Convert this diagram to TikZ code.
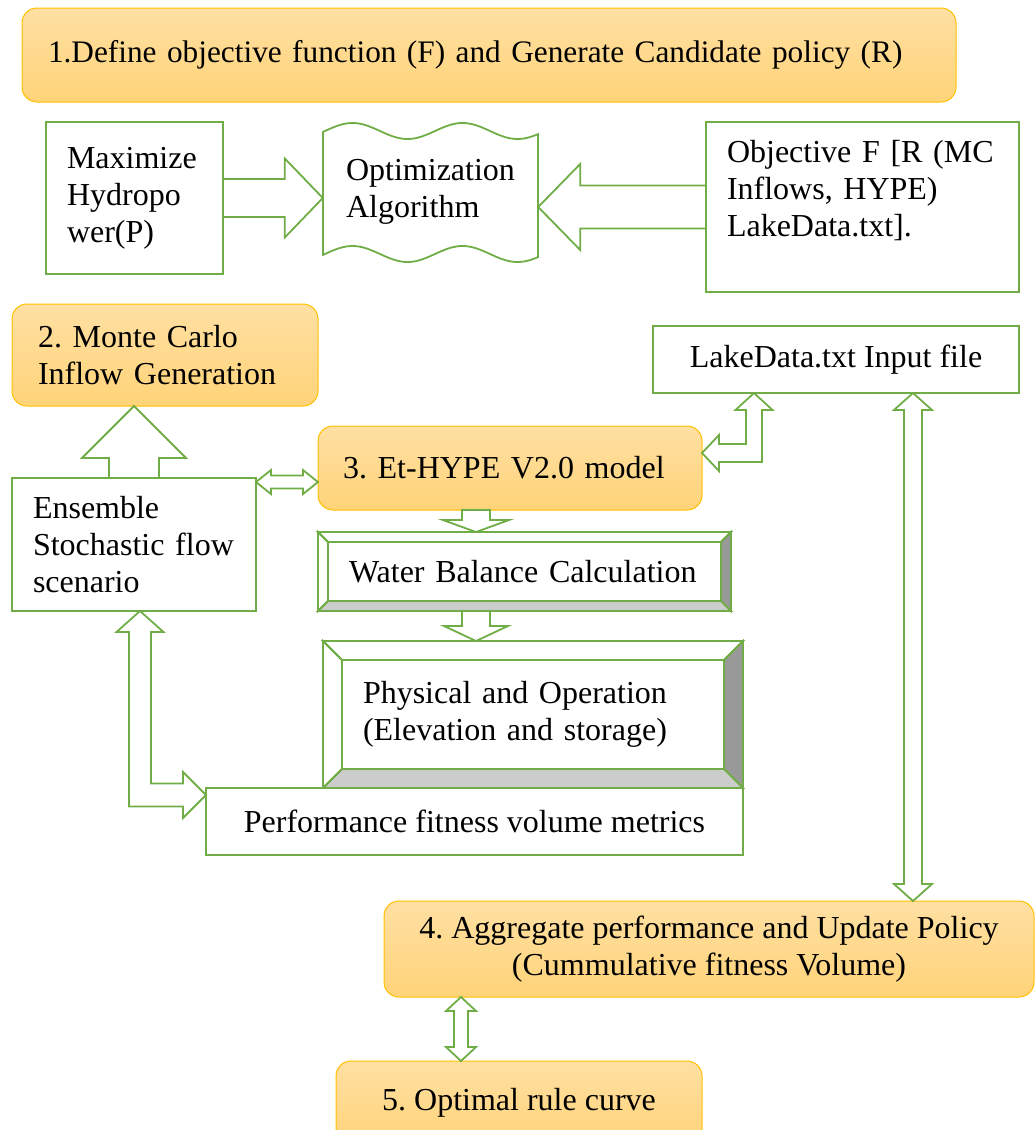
\documentclass[tikz,border=0pt]{standalone}
\usepackage{fontspec}
\setmainfont{Liberation Serif}
\usetikzlibrary{calc}
\definecolor{grn}{HTML}{70AD47}
\definecolor{goldline}{HTML}{FFC000}
\definecolor{goldtop}{HTML}{FFE0A3}
\definecolor{goldbot}{HTML}{FFD378}
\definecolor{bevdark}{HTML}{999999}
\definecolor{bevlight}{HTML}{CCCCCC}
\newcommand{\bigtxt}{\fontsize{32}{37}\selectfont\frenchspacing}
\tikzset{
  stepbox/.style={draw=goldline,line width=1pt,rounded corners=15pt,top color=goldtop,bottom color=goldbot,outer sep=0pt,font=\bigtxt},
  greenbox/.style={draw=grn,line width=2pt,fill=white,outer sep=0pt,font=\bigtxt},
  bevbox/.style={outer sep=0pt,font=\bigtxt},
  bvline/.style={draw=grn,line width=1.8pt,line join=miter},
  blk/.style={draw=grn,line width=1.8pt,fill=white,line join=miter},
}
% block arrow: tail, tip, shaft half width, head half width, head length
\newcommand{\blkarrow}[5]{%
  \coordinate (ba) at ($(#2)!#5!(#1)$);
  \draw[blk] ($(#1)!#3!90:(#2)$) -- ($(ba)!#3!-90:(#1)$) -- ($(ba)!#4!-90:(#1)$) -- (#2)
    -- ($(ba)!#4!90:(#1)$) -- ($(ba)!#3!90:(#1)$) -- ($(#1)!#3!-90:(#2)$) -- cycle;}
\newcommand{\blkarrowtwo}[5]{%
  \coordinate (bb) at ($(#1)!#5!(#2)$);
  \coordinate (ba) at ($(#2)!#5!(#1)$);
  \draw[blk] (#1) -- ($(bb)!#4!90:(#2)$) -- ($(bb)!#3!90:(#2)$) -- ($(ba)!#3!-90:(#1)$) -- ($(ba)!#4!-90:(#1)$) -- (#2)
    -- ($(ba)!#4!90:(#1)$) -- ($(ba)!#3!90:(#1)$) -- ($(bb)!#3!-90:(#2)$) -- ($(bb)!#4!-90:(#2)$) -- cycle;}
% bevelled frame round a node
\newcommand{\bevelframe}[2]{%
  \path (#1.north west) coordinate (bv-nw) (#1.north east) coordinate (bv-ne)
        (#1.south east) coordinate (bv-se) (#1.south west) coordinate (bv-sw);
  \coordinate (bv-inw) at ($(bv-nw)+(#2,#2)$);
  \coordinate (bv-ine) at ($(bv-ne)+(-#2,#2)$);
  \coordinate (bv-ise) at ($(bv-se)+(-#2,-#2)$);
  \coordinate (bv-isw) at ($(bv-sw)+(#2,-#2)$);
  \draw[bvline,fill=bevdark] (bv-ne) -- (bv-se) -- (bv-ise) -- (bv-ine) -- cycle;
  \draw[bvline,fill=bevlight] (bv-sw) -- (bv-se) -- (bv-ise) -- (bv-isw) -- cycle;
  \draw[bvline] (bv-nw) -- (bv-ne) -- (bv-ine) -- (bv-inw) -- cycle;
  \draw[bvline] (bv-nw) -- (bv-sw) -- (bv-isw) -- (bv-inw) -- cycle;}
\begin{document}
\begin{tikzpicture}[x=1pt,y=-1pt]
\useasboundingbox (0,0) rectangle (1035,1130);
\clip (0,0) rectangle (1035,1130);

\node[stepbox,minimum width=934pt,minimum height=94pt,inner xsep=26pt,text width=882pt,align=left,font=\fontsize{31.3}{37}\selectfont] (step1) at (489,55) {1.Define objective function (F) and Generate Candidate policy (R)};

\node[greenbox,minimum width=177pt,minimum height=152pt,inner xsep=21pt,text width=135pt,align=left] (maxp) at (134.5,198) {Maximize\\Hydropo\\wer(P)};
\node[font=\bigtxt,minimum width=215pt,minimum height=124pt,align=left] (optalg) at (430.5,191.5) {Optimization\\Algorithm};
\draw[draw=grn,line width=1.8pt] plot[domain=323:538,samples=80] (\x,{131-8*sin(3.2727*(\x-325))})
  -- plot[domain=538:323,samples=80] (\x,{254-8*sin(3.2727*(\x-325))}) -- cycle;
\node[greenbox,minimum width=313pt,minimum height=170pt,inner xsep=21pt,text width=271pt,align=left] (obj) at (862.5,207) {Objective F [R (MC\\Inflows, HYPE)\\LakeData.txt].\\\mbox{}};

\node[stepbox,minimum width=306pt,minimum height=102pt,inner xsep=26pt,text width=254pt,align=left] (mc) at (165,355) {2. Monte Carlo\\Inflow Generation};
\node[greenbox,minimum width=366pt,minimum height=67pt] (lake) at (836,359.5) {LakeData.txt Input file};
\node[greenbox,minimum width=244pt,minimum height=133pt,inner xsep=21pt,text width=202pt,align=left] (ens) at (134,544.5) {Ensemble\\Stochastic flow\\scenario};
\node[stepbox,minimum width=384pt,minimum height=84pt,inner xsep=25pt,text width=334pt,align=left] (ethype) at (510,468) {3. Et-HYPE V2.0 model};

\node[bevbox,minimum width=413pt,minimum height=79pt,inner xsep=31pt,text width=351pt,align=left] (water) at (524.5,571.5) {Water Balance Calculation};
\bevelframe{water}{10}
\node[bevbox,minimum width=420pt,minimum height=147pt,inner xsep=40pt,text width=340pt,align=left] (phys) at (533,714.5) {Physical and Operation\\(Elevation and storage)};
\bevelframe{phys}{19}
\node[greenbox,minimum width=537pt,minimum height=67pt] (perf) at (474.5,821.5) {Performance fitness volume metrics};

\node[stepbox,minimum width=650pt,minimum height=96pt,align=center] (agg) at (709,949) {4. Aggregate performance and Update Policy\\(Cummulative fitness Volume)};
\node[stepbox,minimum width=366pt,minimum height=84pt] (opt) at (519,1103) {5. Optimal rule curve};

\blkarrow{maxp.east}{maxp.east -| optalg.west}{19pt}{39.5pt}{38pt}
\blkarrow{obj.west}{obj.west -| optalg.east}{21.5pt}{43pt}{42pt}
\blkarrow{ens.north}{ens.north |- mc.south}{25pt}{52pt}{52pt}

\coordinate (e1) at ([yshift=-4pt]ens.north east);
\coordinate (e2) at (e1 -| ethype.west);
\blkarrowtwo{e1}{e2}{6.5pt}{12pt}{15pt}

\coordinate (d1) at ([xshift=-34pt]ethype.south);
\blkarrow{d1}{d1 |- water.north}{14pt}{33pt}{12pt}
\coordinate (d2) at (d1 |- water.south);
\blkarrow{d2}{d2 |- phys.north}{14pt}{32pt}{15pt}

\coordinate (l1) at ([xshift=77pt]lake.south);
\coordinate (l2) at (l1 |- agg.north);
\blkarrowtwo{l1}{l2}{9pt}{19pt}{17pt}

\coordinate (o1) at ([xshift=-58pt]opt.north);
\coordinate (o2) at (o1 |- agg.south);
\blkarrowtwo{o1}{o2}{7pt}{15pt}{14pt}

\coordinate (h1) at ([yshift=15pt]ethype.east);
\coordinate (h2) at ([xshift=-82pt]lake.south);
\coordinate (hk) at (h2 |- h1);
\draw[blk] (h1) -- ($(h1)+(17,-18)$) -- ($(h1)+(17,-9)$) -- ($(hk)+(-8,-9)$) -- ($(h2)+(-8,17)$) -- ($(h2)+(-18.5,17)$)
  -- (h2) -- ($(h2)+(18.5,17)$) -- ($(h2)+(8,17)$) -- ($(hk)+(8,9)$) -- ($(h1)+(17,9)$) -- ($(h1)+(17,18)$) -- cycle;

\coordinate (p1) at ([xshift=6pt]ens.south);
\coordinate (p2) at ([yshift=-7pt]perf.north west);
\coordinate (pk) at (p1 |- p2);
\draw[blk] (p1) -- ($(p1)+(23.5,21)$) -- ($(p1)+(11,21)$) -- ($(pk)+(11,-11.5)$) -- ($(p2)+(-23,-11.5)$) -- ($(p2)+(-23,-23)$)
  -- (p2) -- ($(p2)+(-23,23)$) -- ($(p2)+(-23,11.5)$) -- ($(pk)+(-11,11.5)$) -- ($(p1)+(-11,21)$) -- ($(p1)+(-23.5,21)$) -- cycle;
\end{tikzpicture}
\end{document}
